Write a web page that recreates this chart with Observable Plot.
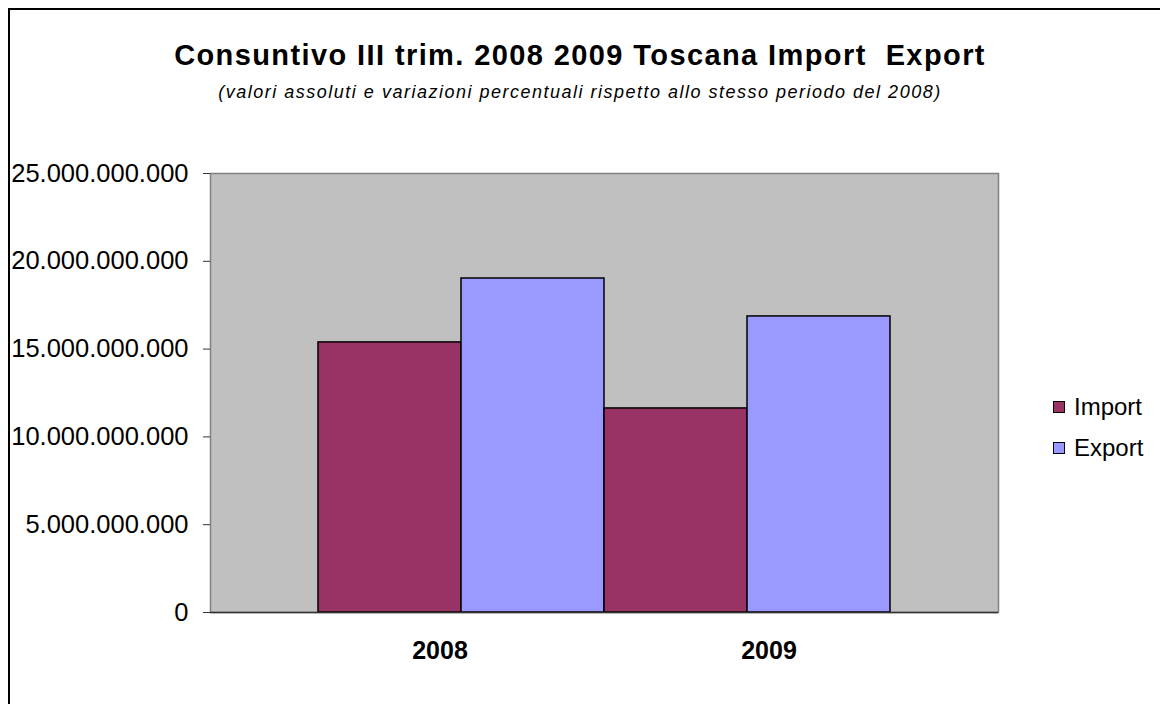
<!DOCTYPE html>
<html>
<head>
<meta charset="utf-8">
<script src="https://cdn.jsdelivr.net/npm/d3@7"></script>
<script src="https://cdn.jsdelivr.net/npm/@observablehq/plot@0.6"></script>
<style>
  html, body { margin: 0; padding: 0; background: #fff; }
  #wrap { position: relative; width: 1160px; height: 704px; overflow: hidden; font-family: "Liberation Sans", Arial, sans-serif; }
  #border { position: absolute; left: 8px; top: 8px; width: 1200px; height: 800px; border: 2px solid #000; box-sizing: border-box; pointer-events: none; }
  #head { height: 150px; position: relative; }
  #title { position: absolute; left: 0; width: 1160px; top: 39px; text-align: center; font-weight: bold; font-size: 29px; letter-spacing: 1.4px; color: #000; white-space: pre; }
  #subtitle { position: absolute; left: 0; width: 1160px; top: 82px; text-align: center; font-style: italic; font-size: 18px; letter-spacing: 1.5px; color: #000; }
  #legend { position: absolute; left: 1053px; top: 386px; font-size: 24px; color: #000; }
  .item { display: flex; align-items: center; height: 41px; }
  .sw { width: 10px; height: 10px; border: 1.5px solid #000; margin-right: 9px; }
</style>
</head>
<body>
<div id="wrap">
  <div id="head">
    <div id="title"></div>
    <div id="subtitle"></div>
  </div>
  <div id="chart"></div>
  <div id="legend"></div>
  <div id="border"></div>
</div>
<script>
const titleText = "Consuntivo III trim. 2008 2009 Toscana Import  Export";
const subtitleText = "(valori assoluti e variazioni percentuali rispetto allo stesso periodo del 2008)";
const years = ["2008", "2009"];
const series = ["Import", "Export"];
const seriesColors = ["#993366", "#9999FF"];
const importValues = [15.38e9, 11.62e9];
const exportValues = [19.02e9, 16.86e9];
const yTicks = [0, 5e9, 10e9, 15e9, 20e9, 25e9];

document.getElementById("title").textContent = titleText;
document.getElementById("subtitle").textContent = subtitleText;

const rows = [];
years.forEach((yr, i) => {
  rows.push({year: yr, series: "Import", key: yr + " Import", value: importValues[i]});
  rows.push({year: yr, series: "Export", key: yr + " Export", value: exportValues[i]});
});

const locale = d3.formatLocale({decimal: ",", thousands: ".", grouping: [3], currency: ["", "€"]});
const fmt = locale.format(",.0f");

const chart = Plot.plot({
  width: 1160,
  height: 554,
  marginTop: 23,
  marginBottom: 92,
  marginLeft: 210,
  marginRight: 162,
  style: {fontFamily: "Liberation Sans, Arial, sans-serif", background: "transparent"},
  x: {type: "band", domain: rows.map(d => d.key), paddingInner: 0, paddingOuter: 0.745, axis: null},
  y: {domain: [0, 25e9], ticks: yTicks, tickFormat: fmt, label: null, axis: null},
  color: {domain: series, range: seriesColors},
  marks: [
    Plot.frame({fill: "#C0C0C0", stroke: "#808080", strokeWidth: 1.5}),
    Plot.barY(rows, {x: "key", y: "value", fill: "series", stroke: "#000", strokeWidth: 1.5, inset: 0}),
    Plot.ruleY([0], {stroke: "#333", strokeWidth: 1.5}),
    Plot.axisY({ticks: yTicks, tickFormat: fmt, tickSize: 7, tickPadding: 15, fontSize: 25.5, stroke: "#333", fill: "#000", label: null}),
    Plot.text([rows[1]], {x: "key", text: "year", frameAnchor: "bottom", dx: -93, dy: 46, fontSize: 25, fontWeight: "bold", fill: "#000"}),
    Plot.text([rows[2]], {x: "key", text: "year", frameAnchor: "bottom", dx: 93, dy: 46, fontSize: 25, fontWeight: "bold", fill: "#000"})
  ]
});
document.getElementById("chart").appendChild(chart);

const legend = document.getElementById("legend");
series.forEach((s, i) => {
  const item = document.createElement("div");
  item.className = "item";
  const sw = document.createElement("div");
  sw.className = "sw";
  sw.style.background = seriesColors[i];
  const lab = document.createElement("span");
  lab.textContent = s;
  item.appendChild(sw);
  item.appendChild(lab);
  legend.appendChild(item);
});
</script>
</body>
</html>
